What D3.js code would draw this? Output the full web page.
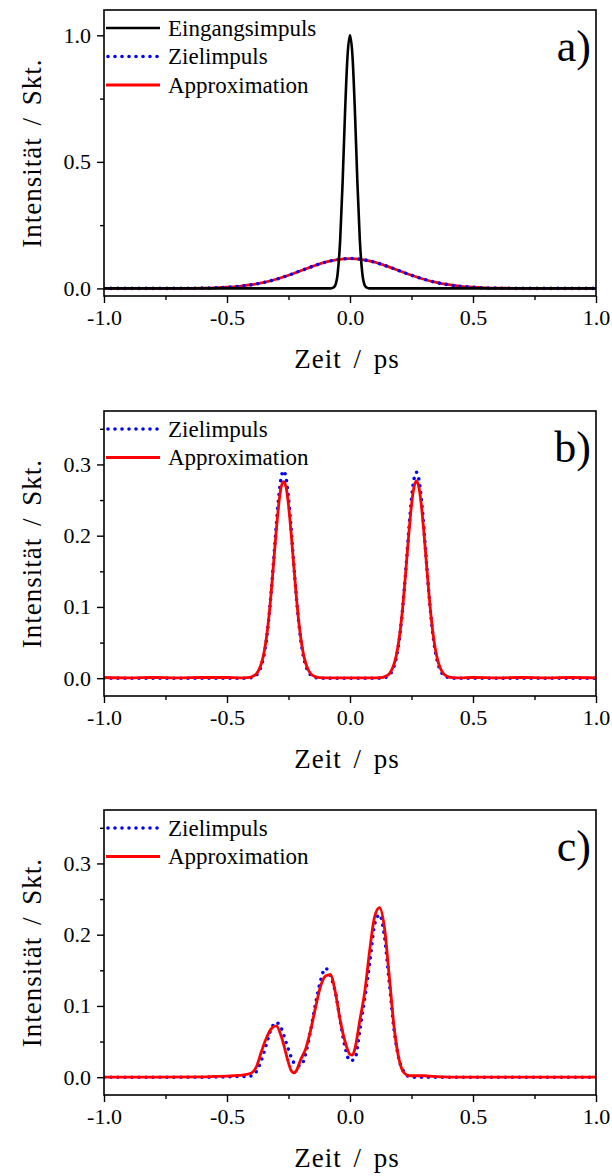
<!DOCTYPE html>
<html><head><meta charset="utf-8">
<script src="https://cdn.jsdelivr.net/npm/d3@7"></script>
<style>
html,body{margin:0;padding:0;background:#fff;}
svg{display:block;}
</style></head><body>
<svg id="chart" width="612" height="1176"></svg>
<script>
// ---------- tick data ----------
const xDomain = [-1.0, 1.0];
const xTicks = [-1.0, -0.5, 0.0, 0.5, 1.0];
const xTickLabels = ["-1.0", "-0.5", "0.0", "0.5", "1.0"];
const xMinorTicks = [-0.75, -0.25, 0.25, 0.75];
const xTitle = "Zeit / ps";
const yTitle = "Intensität / Skt.";

const yDomainA = [-0.03, 1.1];
const yTicksA = [0.0, 0.5, 1.0];
const yTickLabelsA = ["0.0", "0.5", "1.0"];
const yMinorA = [0.25, 0.75];

const yDomainBC = [-0.025, 0.375];
const yTicksBC = [0.0, 0.1, 0.2, 0.3];
const yTickLabelsBC = ["0.0", "0.1", "0.2", "0.3"];
const yMinorBC = [0.05, 0.15, 0.25, 0.35];

const seriesNames = ["Eingangsimpuls", "Zielimpuls", "Approximation"];

// ---------- panel a ----------
const xInputA = [-1.0,-0.5,-0.2,-0.1,-0.08,-0.07,-0.06,-0.05,-0.04,-0.03,-0.02,-0.01,0.0,0.01,0.02,0.03,0.04,0.05,0.06,0.07,0.08,0.1,0.2,0.5,1.0];
const yInputA = [0,0,0,0,0,0.002,0.012,0.06,0.19,0.42,0.70,0.92,1.0,0.92,0.70,0.42,0.19,0.06,0.012,0.002,0,0,0,0,0];

const xTargetA = [-1.0,-0.9,-0.8,-0.75,-0.7,-0.65,-0.6,-0.55,-0.5,-0.45,-0.4,-0.35,-0.3,-0.25,-0.2,-0.15,-0.1,-0.05,0.0,0.05,0.1,0.15,0.2,0.25,0.3,0.35,0.4,0.45,0.5,0.55,0.6,0.65,0.7,0.75,0.8,0.9,1.0];
const yTargetA = [0,0,0,0.0001,0.0002,0.0004,0.0010,0.0022,0.0044,0.0082,0.0144,0.0235,0.0361,0.0519,0.0697,0.0878,0.1035,0.1142,0.118,0.1142,0.1035,0.0878,0.0697,0.0519,0.0361,0.0235,0.0144,0.0082,0.0044,0.0022,0.0010,0.0004,0.0002,0.0001,0,0,0];
const yApproxA = [0,0,0,0.0001,0.0002,0.0005,0.0011,0.0023,0.0045,0.0083,0.0145,0.0236,0.0362,0.0520,0.0698,0.0879,0.1036,0.1141,0.1178,0.1141,0.1036,0.0879,0.0698,0.0520,0.0362,0.0236,0.0145,0.0083,0.0045,0.0023,0.0011,0.0005,0.0002,0.0001,0,0,0];

// ---------- panel b ----------
const xB = [-1.0,-0.9,-0.8,-0.7,-0.6,-0.5,-0.45,-0.42,
  -0.41,-0.40,-0.39,-0.38,-0.37,-0.36,-0.35,-0.34,-0.33,-0.32,-0.31,-0.30,-0.29,-0.28,-0.27,-0.26,-0.25,-0.24,-0.23,-0.22,-0.21,-0.20,-0.19,-0.18,-0.17,-0.16,-0.15,-0.14,-0.13,
  -0.12,-0.10,-0.05,0.0,0.05,0.10,0.12,
  0.13,0.14,0.15,0.16,0.17,0.18,0.19,0.20,0.21,0.22,0.23,0.24,0.25,0.26,0.27,0.28,0.29,0.30,0.31,0.32,0.33,0.34,0.35,0.36,0.37,0.38,0.39,0.40,0.41,
  0.42,0.45,0.5,0.6,0.7,0.8,0.9,1.0];
const yTargetB = [0,0,0,0,0,0,0,0,
  0.0003,0.0008,0.002,0.0044,0.0091,0.0176,0.0317,0.0533,0.0838,0.1225,0.167,0.213,0.253,0.281,0.291,0.281,0.253,0.213,0.167,0.1225,0.0838,0.0533,0.0317,0.0176,0.0091,0.0044,0.002,0.0008,0.0003,
  0,0,0,0,0,0,0,
  0.0003,0.0008,0.002,0.0044,0.0091,0.0176,0.0316,0.0531,0.0835,0.122,0.166,0.212,0.252,0.279,0.289,0.279,0.252,0.212,0.166,0.122,0.0835,0.0531,0.0316,0.0176,0.0091,0.0044,0.002,0.0008,0.0003,
  0,0,0,0,0,0,0,0];
const yApproxB = [0.001,0.0005,0.001,0.0005,0.001,0.001,0.0005,0.0008,
  0.001,0.002,0.0035,0.0065,0.012,0.021,0.035,0.056,0.085,0.122,0.164,0.206,0.243,0.268,0.276,0.268,0.243,0.206,0.164,0.122,0.085,0.056,0.035,0.021,0.012,0.0065,0.0035,0.002,0.001,
  0.0008,0.0005,0.0003,0.0005,0.0003,0.0005,0.0008,
  0.001,0.002,0.0035,0.0065,0.012,0.021,0.035,0.056,0.085,0.122,0.164,0.206,0.243,0.268,0.277,0.268,0.243,0.206,0.164,0.122,0.085,0.056,0.035,0.021,0.012,0.0065,0.0035,0.002,0.001,
  0.0008,0.0005,0.001,0.0005,0.001,0.0005,0.001,0.0005];

// ---------- panel c ----------
const xTargetC = [-1.0,-0.8,-0.6,-0.5,-0.44,-0.42,-0.40,-0.38,-0.36,-0.34,-0.32,-0.30,-0.28,-0.26,-0.24,-0.22,-0.20,-0.18,-0.16,-0.14,-0.12,-0.10,-0.08,-0.06,-0.04,-0.02,0.0,0.02,0.04,0.06,0.08,0.10,0.12,0.14,0.16,0.18,0.20,0.22,0.24,0.26,0.4,0.6,0.8,1.0];
const yTargetC = [0,0,0,0.0005,0.001,0.001,0.002,0.008,0.024,0.046,0.068,0.077,0.069,0.049,0.029,0.017,0.016,0.033,0.066,0.103,0.135,0.153,0.142,0.120,0.080,0.042,0.023,0.026,0.066,0.111,0.160,0.214,0.228,0.198,0.132,0.064,0.024,0.007,0.001,0,0,0,0,0];

const xApproxC = [-1.0,-0.8,-0.6,-0.55,-0.5,-0.45,-0.42,-0.40,-0.38,-0.36,-0.34,-0.32,-0.30,-0.28,-0.26,-0.25,-0.24,-0.23,-0.22,-0.20,-0.18,-0.16,-0.14,-0.12,-0.10,-0.08,-0.06,-0.04,-0.02,0.0,0.01,0.02,0.04,0.06,0.08,0.10,0.12,0.14,0.16,0.18,0.20,0.22,0.24,0.26,0.30,0.34,0.38,0.45,0.6,0.8,1.0];
const yApproxC = [0,0,0.0005,0.001,0.0015,0.0025,0.004,0.006,0.015,0.036,0.055,0.068,0.072,0.058,0.033,0.020,0.010,0.006,0.008,0.025,0.040,0.066,0.098,0.127,0.142,0.144,0.120,0.080,0.050,0.032,0.031,0.040,0.080,0.120,0.178,0.225,0.238,0.210,0.140,0.068,0.024,0.006,0.002,0.002,0.002,0.001,0.0005,0,0,0,0];

// ---------- styles ----------
const FONT = "Liberation Serif, DejaVu Serif, Times New Roman, serif";
const styles = {
  input:  {color: "#000000", width: 2.6, dash: null},
  target: {color: "#0000ff", width: 3.6, dash: "0,7"},
  approx: {color: "#ff0000", width: 2.8, dash: null}
};

const svg = d3.select("#chart");
const x = d3.scaleLinear().domain(xDomain).range([104, 596]);

function zip(xs, ys) { return xs.map((v, i) => [v, ys[i]]); }

function drawPanel(cfg) {
  const y = d3.scaleLinear().domain(cfg.yDomain).range([cfg.bottom, cfg.top]);
  const g = svg.append("g").attr("font-family", FONT);
  const clipId = "clip" + cfg.id;
  g.append("clipPath").attr("id", clipId).append("rect")
    .attr("x", 104).attr("y", cfg.top).attr("width", 492).attr("height", cfg.bottom - cfg.top);

  // axes
  const xAxis = d3.axisBottom(x).tickValues(xTicks).tickSize(7).tickPadding(6)
    .tickFormat((d, i) => xTickLabels[i]);
  const xAx = g.append("g").attr("transform", `translate(0,${cfg.bottom})`).call(xAxis);
  const xMin = g.append("g").attr("transform", `translate(0,${cfg.bottom})`)
    .call(d3.axisBottom(x).tickValues(xMinorTicks).tickSize(4).tickFormat(""));
  const yAxis = d3.axisLeft(y).tickValues(cfg.yTicks).tickSize(7).tickPadding(6)
    .tickFormat((d, i) => cfg.yTickLabels[i]);
  const yAx = g.append("g").attr("transform", "translate(104,0)").call(yAxis);
  const yMin = g.append("g").attr("transform", "translate(104,0)")
    .call(d3.axisLeft(y).tickValues(cfg.yMinor).tickSize(4).tickFormat(""));
  [xAx, xMin, yAx, yMin].forEach(a => {
    a.attr("font-family", FONT).attr("font-size", 22);
    a.select(".domain").remove();
    a.selectAll("line").attr("stroke", "#000").attr("stroke-width", 1.4);
    a.selectAll("text").attr("fill", "#000");
  });

  // series
  const line = d3.line().x(d => x(d[0])).y(d => y(d[1])).curve(d3.curveMonotoneX);
  const plot = g.append("g").attr("clip-path", `url(#${clipId})`);
  cfg.series.forEach(s => {
    const st = styles[s.kind];
    const p = plot.append("path").datum(zip(s.xs, s.ys)).attr("d", line)
      .attr("fill", "none").attr("stroke", st.color).attr("stroke-width", st.width)
      .attr("stroke-linejoin", "round").attr("stroke-linecap", "round");
    if (st.dash) p.attr("stroke-dasharray", st.dash);
  });

  // frame
  g.append("rect").attr("x", 104).attr("y", cfg.top).attr("width", 492).attr("height", cfg.bottom - cfg.top)
    .attr("fill", "none").attr("stroke", "#000").attr("stroke-width", 1.6);

  // legend
  cfg.legend.forEach((L, i) => {
    const st = styles[L.kind];
    const ly = cfg.top + 18 + i * 28.5;
    const ln = g.append("line").attr("x1", st.dash ? 108 : 106).attr("x2", 160).attr("y1", ly).attr("y2", ly)
      .attr("stroke", st.color).attr("stroke-width", st.width).attr("stroke-linecap", st.dash ? "round" : "butt");
    if (st.dash) ln.attr("stroke-dasharray", st.dash);
    g.append("text").attr("x", 168).attr("y", ly + 7.5).text(L.name)
      .attr("font-family", FONT).attr("font-size", 23).attr("fill", "#000");
  });

  // panel label
  g.append("text").attr("x", 591).attr("y", cfg.top + 51).attr("text-anchor", "end")
    .attr("font-family", FONT).attr("font-size", 44).text(cfg.label);

  // axis titles
  g.append("text").attr("x", 347).attr("y", cfg.bottom + 72).attr("text-anchor", "middle")
    .attr("font-family", FONT).attr("font-size", 27).attr("letter-spacing", 1).attr("word-spacing", 4).text(xTitle);
  g.append("text").attr("transform", `translate(41,${(cfg.top + cfg.bottom) / 2}) rotate(-90)`)
    .attr("text-anchor", "middle")
    .attr("font-family", FONT).attr("font-size", 27).attr("letter-spacing", 1).attr("word-spacing", 4).text(yTitle);
}

drawPanel({
  id: "a", top: 10, bottom: 296, yDomain: yDomainA, yTicks: yTicksA, yTickLabels: yTickLabelsA, yMinor: yMinorA,
  label: "a)",
  series: [
    {kind: "approx", xs: xTargetA, ys: yApproxA},
    {kind: "target", xs: xTargetA, ys: yTargetA},
    {kind: "input", xs: xInputA, ys: yInputA}
  ],
  legend: [{kind: "input", name: seriesNames[0]}, {kind: "target", name: seriesNames[1]}, {kind: "approx", name: seriesNames[2]}]
});
drawPanel({
  id: "b", top: 411, bottom: 696, yDomain: yDomainBC, yTicks: yTicksBC, yTickLabels: yTickLabelsBC, yMinor: yMinorBC,
  label: "b)",
  series: [
    {kind: "target", xs: xB, ys: yTargetB},
    {kind: "approx", xs: xB, ys: yApproxB}
  ],
  legend: [{kind: "target", name: seriesNames[1]}, {kind: "approx", name: seriesNames[2]}]
});
drawPanel({
  id: "c", top: 810, bottom: 1095, yDomain: yDomainBC, yTicks: yTicksBC, yTickLabels: yTickLabelsBC, yMinor: yMinorBC,
  label: "c)",
  series: [
    {kind: "target", xs: xTargetC, ys: yTargetC},
    {kind: "approx", xs: xApproxC, ys: yApproxC}
  ],
  legend: [{kind: "target", name: seriesNames[1]}, {kind: "approx", name: seriesNames[2]}]
});
</script>
</body></html>
